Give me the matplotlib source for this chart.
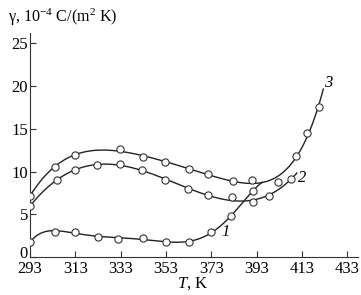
import numpy as np
import matplotlib
matplotlib.use("Agg")
import matplotlib.pyplot as plt
import matplotlib.transforms as mtransforms

plt.rcParams['font.family'] = ['Liberation Serif', 'DejaVu Serif']
plt.rcParams['mathtext.fontset'] = 'custom'
plt.rcParams['mathtext.rm'] = 'Liberation Serif'
plt.rcParams['mathtext.it'] = 'Liberation Serif:italic'

# Curve 1
T1 = [293, 304, 313, 323, 332, 343, 353, 363, 373, 381.5, 391.3]
g1 = [1.8, 3.0, 3.0, 2.4, 2.1, 2.3, 1.75, 1.8, 2.9, 4.8, 7.75]
T1_end = 395.5
# Curve 2
T2 = [293, 305, 313, 322.5, 332.5, 342.5, 352.5, 362.5, 371.5, 382, 391.5, 398.5, 408]
g2 = [6.0, 9.0, 10.25, 10.8, 10.9, 10.2, 9.0, 7.95, 7.25, 7.0, 6.5, 7.2, 9.15]
T2_end = 410.7
# Curve 3
T3 = [293, 304, 313, 332.5, 343, 352.5, 363, 371.5, 382.5, 391, 402.5, 410.5, 415, 420.5]
g3 = [7.2, 10.55, 12.0, 12.6, 11.7, 11.1, 10.3, 9.75, 8.9, 9.0, 8.75, 11.8, 14.5, 17.6]
T3_end = 422.4

xticks = [293, 313, 333, 353, 373, 393, 413, 433]
yticks = [0, 5, 10, 15, 20, 25]

fig = plt.figure(figsize=(3.61, 2.95), dpi=100)
ax = fig.add_axes([0.0831, 0.1278, 0.9086, 0.7603])

curves = [(T1, g1, T1_end, 6, '1'), (T2, g2, T2_end, 5, '2'), (T3, g3, T3_end, 6, '3')]
for T, g, Tend, deg, lab in curves:
    T = np.array(T, float); g = np.array(g, float)
    c = np.polyfit(T - 350, g, deg)
    tt = np.linspace(T[0], Tend, 300)
    ax.plot(tt, np.polyval(c, tt - 350), color='#222222', lw=1.0, zorder=2)
    ax.plot(T, g, 'o', ms=5.2, mfc='white', mec='#333333', mew=0.8, zorder=3)

ax.text(379.5, 3.0, '1', fontsize=12, style='italic', ha='center', va='center')
ax.text(413.2, 9.3, '2', fontsize=12, style='italic', ha='center', va='center')
ax.text(424.5, 20.4, '3', fontsize=12, style='italic', ha='center', va='center')

ax.set_xlim(293, 437.7)
ax.set_ylim(0, 26.2)
ax.set_xticks(xticks)
ax.set_yticks(yticks)
for s in ['top', 'right']:
    ax.spines[s].set_visible(False)
for s in ['left', 'bottom']:
    ax.spines[s].set_linewidth(0.8)
    ax.spines[s].set_color('#333333')
ax.tick_params(direction='in', length=4.5, width=0.8, color='#333333', labelsize=12)
ax.tick_params(axis='x', pad=3)
ax.tick_params(axis='y', pad=1.5)

fig.canvas.draw()
ylabels = ax.get_yticklabels()
ylabels[0].set_transform(ylabels[0].get_transform() +
                         mtransforms.ScaledTranslation(0, 4/72, fig.dpi_scale_trans))

fig.text(0.022, 0.94, r'γ, 10$^{-4}$ C/(m$^2$ K)', fontsize=11.6, ha='left', va='center')
fig.text(0.535, 0.04, r'$\mathit{T}$, K', fontsize=12, ha='center', va='center')

fig.savefig('out.png', dpi=100)
